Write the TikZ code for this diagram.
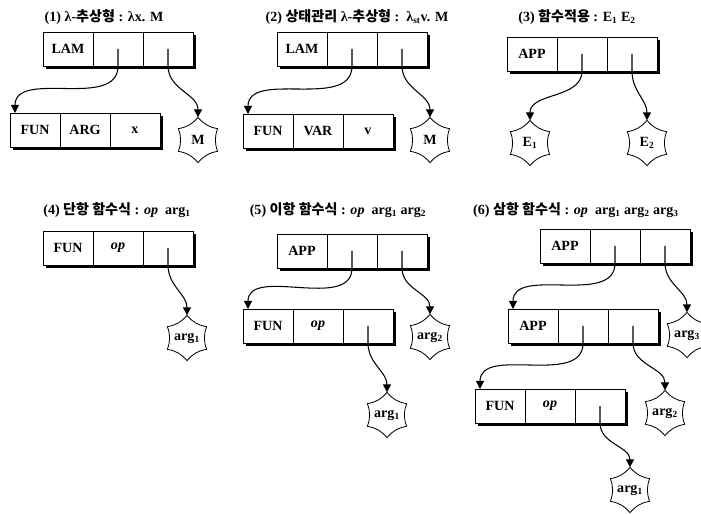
\documentclass[tikz,border=0pt]{standalone}
\usepackage{fontspec}
\setmainfont{Liberation Serif}
\newfontfamily\kr{Noto Sans CJK KR}
\usepackage{tikz}
\usetikzlibrary{arrows.meta,positioning}
\tikzset{
  cellbox/.style={rectangle,draw=black,line width=0.6pt,fill=white,outer sep=0pt,inner sep=0pt,minimum width=1.5cm,minimum height=1.02cm,font=\fontsize{12}{14}\selectfont\bfseries},
  argstar/.style={circle,minimum size=1.36cm,inner sep=0pt,outer sep=0pt,font=\fontsize{12}{14}\selectfont\bfseries},
  starline/.style={line width=0.7pt},
  boxshadow/.style={fill=black},
  titlelabel/.style={font=\fontsize{12}{14}\selectfont\bfseries,inner sep=1pt},
  ptr/.style={-{Triangle[length=2.4mm,width=2.4mm]},line width=0.9pt}
}

\begin{document}
\begin{tikzpicture}[x=0.03cm,y=-0.03cm]
  \useasboundingbox (0,0) rectangle (701,514);

  % titles
  \node[titlelabel] (t1) at (104,17) {(1) λ-{\kr 추상형} : λx. M};
  \node[titlelabel] (t2) at (357,17) {(2) {\kr 상태관리} λ-{\kr 추상형} :\ \ λ\textsubscript{st}v. M};
  \node[titlelabel] (t3) at (577,17) {(3) {\kr 함수적용} : E\textsubscript{1} E\textsubscript{2}};
  \node[titlelabel] (t4) at (117,210) {(4) {\kr 단항 함수식} : \textit{op}\ \ arg\textsubscript{1}};
  \node[titlelabel] (t5) at (338,210) {(5) {\kr 이항 함수식} : \textit{op}\ \ arg\textsubscript{1} arg\textsubscript{2}};
  \node[titlelabel] (t6) at (576,210) {(6) {\kr 삼항 함수식} : \textit{op}\ \ arg\textsubscript{1} arg\textsubscript{2} arg\textsubscript{3}};

  % (1)
  \node[cellbox] (l1a) at (68,49) {LAM};
  \node[cellbox, right=0pt of l1a] (l1b) {};
  \node[cellbox, right=0pt of l1b] (l1c) {};
  \node[cellbox] (f1a) at (35,130) {FUN};
  \node[cellbox, right=0pt of f1a] (f1b) {ARG};
  \node[cellbox, right=0pt of f1b] (f1c) {x};
  \node[argstar] (m1) at (198,140) {M};

  % (2)
  \node[cellbox] (l2a) at (302,49) {LAM};
  \node[cellbox, right=0pt of l2a] (l2b) {};
  \node[cellbox, right=0pt of l2b] (l2c) {};
  \node[cellbox] (f2a) at (268,131) {FUN};
  \node[cellbox, right=0pt of f2a] (f2b) {VAR};
  \node[cellbox, right=0pt of f2b] (f2c) {v};
  \node[argstar] (m2) at (430,140) {M};

  % (3)
  \node[cellbox] (a3a) at (532,54) {APP};
  \node[cellbox, right=0pt of a3a] (a3b) {};
  \node[cellbox, right=0pt of a3b] (a3c) {};
  \node[argstar] (e31) at (530,143) {E\textsubscript{1}};
  \node[argstar] (e32) at (647,143) {E\textsubscript{2}};

  % (4)
  \node[cellbox] (f4a) at (68,248) {FUN};
  \node[cellbox, right=0pt of f4a] (f4b) {\textit{op}};
  \node[cellbox, right=0pt of f4b] (f4c) {};
  \node[argstar] (g41) at (187,338) {arg\textsubscript{1}};

  % (5)
  \node[cellbox] (a5a) at (302,251) {APP};
  \node[cellbox, right=0pt of a5a] (a5b) {};
  \node[cellbox, right=0pt of a5b] (a5c) {};
  \node[cellbox] (f5a) at (268,326) {FUN};
  \node[cellbox, right=0pt of f5a] (f5b) {\textit{op}};
  \node[cellbox, right=0pt of f5b] (f5c) {};
  \node[argstar] (g52) at (430,337) {arg\textsubscript{2}};
  \node[argstar] (g51) at (387,415) {arg\textsubscript{1}};

  % (6)
  \node[cellbox] (a6a) at (565,246) {APP};
  \node[cellbox, right=0pt of a6a] (a6b) {};
  \node[cellbox, right=0pt of a6b] (a6c) {};
  \node[cellbox] (b6a) at (533,326) {APP};
  \node[cellbox, right=0pt of b6a] (b6b) {};
  \node[cellbox, right=0pt of b6b] (b6c) {};
  \node[cellbox] (f6a) at (500,406) {FUN};
  \node[cellbox, right=0pt of f6a] (f6b) {\textit{op}};
  \node[cellbox, right=0pt of f6b] (f6c) {};
  \node[argstar] (g63) at (687,335) {arg\textsubscript{3}};
  \node[argstar] (g62) at (665,413) {arg\textsubscript{2}};
  \node[argstar] (g61) at (630,490) {arg\textsubscript{1}};

  % shadows under and right of each record
  \foreach \row in {l1,f1,l2,f2,a3,f4,a5,f5,a6,b6,f6} {
    \fill[boxshadow] ([xshift=0.1cm]\row a.south west) rectangle ([xshift=0.1cm,yshift=-0.1cm]\row c.south east);
    \fill[boxshadow] ([yshift=-0.1cm]\row c.north east) rectangle ([xshift=0.1cm]\row c.south east);
  }

  % star outlines
  \foreach \s in {m1,m2,e31,e32,g41,g51,g52,g61,g62,g63}
    \draw[starline] (\s.90) \foreach \a in {150,210,270,330,30,90} {to[bend left=20] (\s.\a)};

  % pointers
  \draw[ptr] (l1b.center) -- (l1b.south) to[out=-90,in=90] ([xshift=0.15cm]f1a.north west);
  \draw[ptr] (l1c.center) -- (l1c.south) to[out=-90,in=90] (m1.north);
  \draw[ptr] (l2b.center) -- (l2b.south) to[out=-90,in=90] ([xshift=0.15cm]f2a.north west);
  \draw[ptr] (l2c.center) -- (l2c.south) to[out=-90,in=90] (m2.north);
  \draw[ptr] (a3b.center) -- (a3b.south) to[out=-90,in=90] (e31.north);
  \draw[ptr] (a3c.center) -- (a3c.south) to[out=-90,in=90] (e32.north);
  \draw[ptr] (f4c.center) -- (f4c.south) to[out=-90,in=90] (g41.north);
  \draw[ptr] (a5b.center) -- (a5b.south) to[out=-90,in=90] ([xshift=0.15cm]f5a.north west);
  \draw[ptr] (a5c.center) -- (a5c.south) to[out=-90,in=90] (g52.north);
  \draw[ptr] (f5c.center) -- (f5c.south) to[out=-90,in=90] (g51.north);
  \draw[ptr] (a6b.center) -- (a6b.south) to[out=-90,in=90] ([xshift=0.15cm]b6a.north west);
  \draw[ptr] (a6c.center) -- (a6c.south) to[out=-90,in=90] (g63.north);
  \draw[ptr] (b6b.center) -- (b6b.south) to[out=-90,in=90] ([xshift=0.15cm]f6a.north west);
  \draw[ptr] (b6c.center) -- (b6c.south) to[out=-90,in=90] (g62.north);
  \draw[ptr] (f6c.center) -- (f6c.south) to[out=-90,in=90] (g61.north);
\end{tikzpicture}
\end{document}
